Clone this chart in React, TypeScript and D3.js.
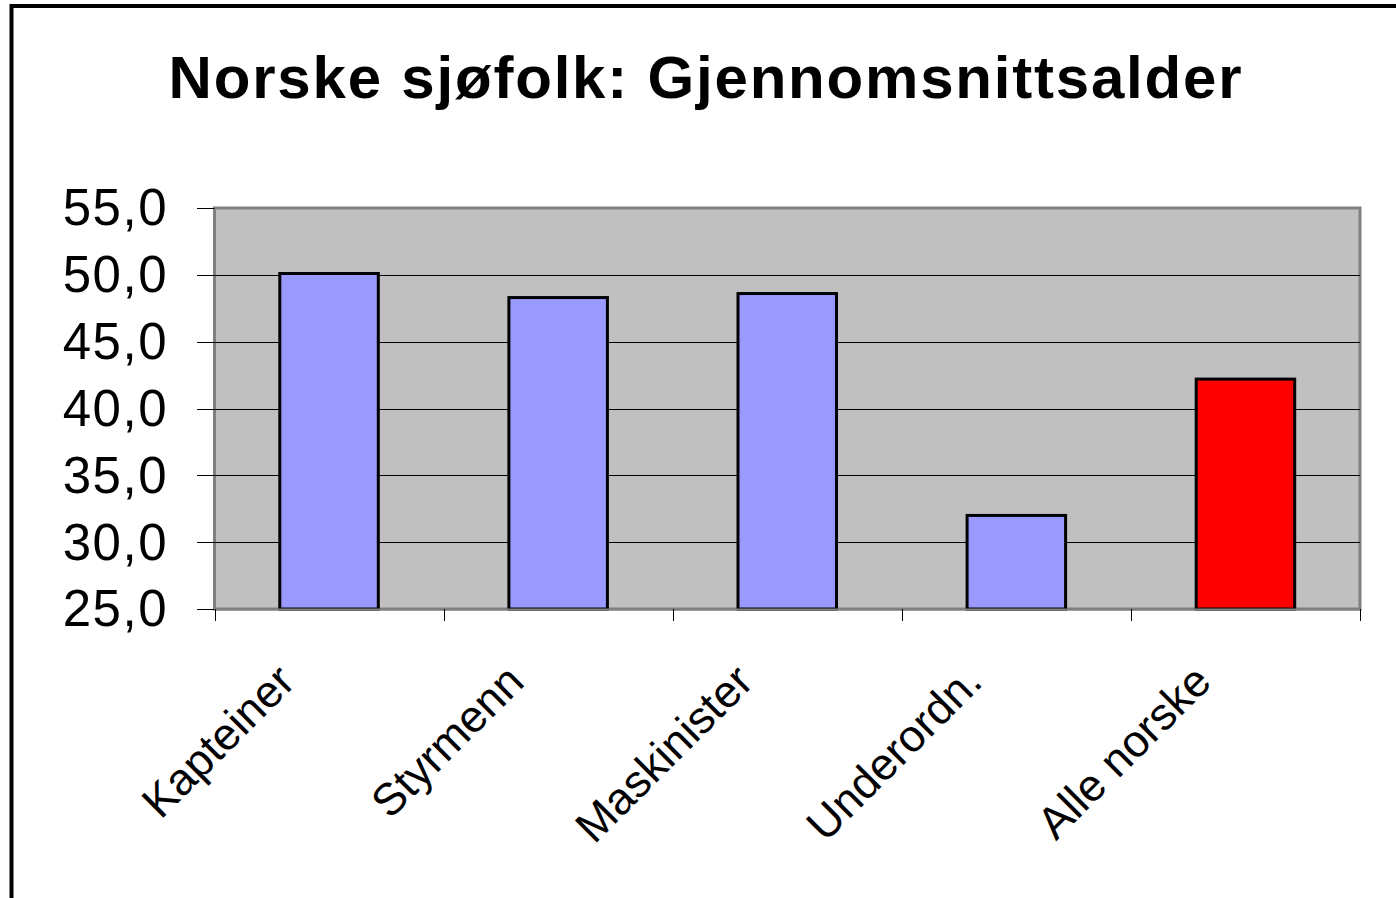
import * as d3 from 'd3';
import { useMemo } from 'react';

const categories = ['Kapteiner', 'Styrmenn', 'Maskinister', 'Underordn.', 'Alle norske'];
const values = [50.1, 48.3, 48.6, 32.0, 42.2];
const barColors = ['#9999FF', '#9999FF', '#9999FF', '#9999FF', '#FF0000'];
const yTicks = [25, 30, 35, 40, 45, 50, 55];
const title = 'Norske sjøfolk: Gjennomsnittsalder';

const W = 1396;
const H = 898;
const plot = { left: 214.5, right: 1360, top: 208, bottom: 609 };

export default function App() {
  const x = useMemo(
    () => d3.scaleBand<string>().domain(categories).range([plot.left, plot.right]).padding(0),
    []
  );
  const y = useMemo(
    () => d3.scaleLinear().domain([25, 55]).range([plot.bottom, plot.top]),
    []
  );
  const barW = x.bandwidth() * 0.43;
  const fmt = (v: number) => v.toFixed(1).replace('.', ',');
  const boundaries = categories.map((c) => x(c) as number).concat([plot.right]);

  return (
    <svg
      width={W}
      height={H}
      style={{ position: 'absolute', left: 0, top: 0, background: '#fff' }}
      fontFamily="'Liberation Sans', Arial, sans-serif"
    >
      <rect x={11.5} y={6} width={W + 20} height={H + 20} fill="#fff" stroke="#000" strokeWidth={4} />

      <text x={706} y={98} textAnchor="middle" fontSize={60} fontWeight="bold" letterSpacing={1.8}>
        {title}
      </text>

      {/* plot background */}
      <rect
        x={plot.left}
        y={plot.top}
        width={plot.right - plot.left}
        height={plot.bottom - plot.top}
        fill="#C0C0C0"
        stroke="#808080"
        strokeWidth={3}
      />

      {/* gridlines */}
      {yTicks
        .filter((t) => t > 25 && t < 55)
        .map((t) => (
          <line key={t} x1={plot.left} x2={plot.right} y1={Math.round(y(t)) + 0.5} y2={Math.round(y(t)) + 0.5} stroke="#000" strokeWidth={1} />
        ))}

      {/* y ticks and labels */}
      {yTicks.map((t) => (
        <g key={t}>
          <line x1={197} x2={plot.left} y1={Math.round(y(t)) + 0.5} y2={Math.round(y(t)) + 0.5} stroke="#000" strokeWidth={1} />
          <text x={168} y={y(t)} dy="0.34em" textAnchor="end" fontSize={51} letterSpacing={1.5}>
            {fmt(t)}
          </text>
        </g>
      ))}

      {/* bars */}
      {categories.map((c, i) => {
        const cx = (x(c) as number) + x.bandwidth() / 2;
        return (
          <rect
            key={c}
            x={cx - barW / 2}
            y={y(values[i])}
            width={barW}
            height={y(25) - y(values[i])}
            fill={barColors[i]}
            stroke="#000"
            strokeWidth={3}
          />
        );
      })}

      {/* x axis */}
      <line x1={plot.left} x2={plot.right} y1={609.5} y2={609.5} stroke="#808080" strokeWidth={2} />
      {boundaries.map((b, i) => (
        <line key={i} x1={Math.round(b) + 0.5} x2={Math.round(b) + 0.5} y1={609} y2={621} stroke="#000" strokeWidth={1} />
      ))}
      {categories.map((c) => {
        const cx = (x(c) as number) + x.bandwidth() / 2;
        return (
          <text
            key={c}
            transform={`translate(${cx - 32},${684}) rotate(-45)`}
            textAnchor="end"
            fontSize={45}
          >
            {c}
          </text>
        );
      })}
    </svg>
  );
}
